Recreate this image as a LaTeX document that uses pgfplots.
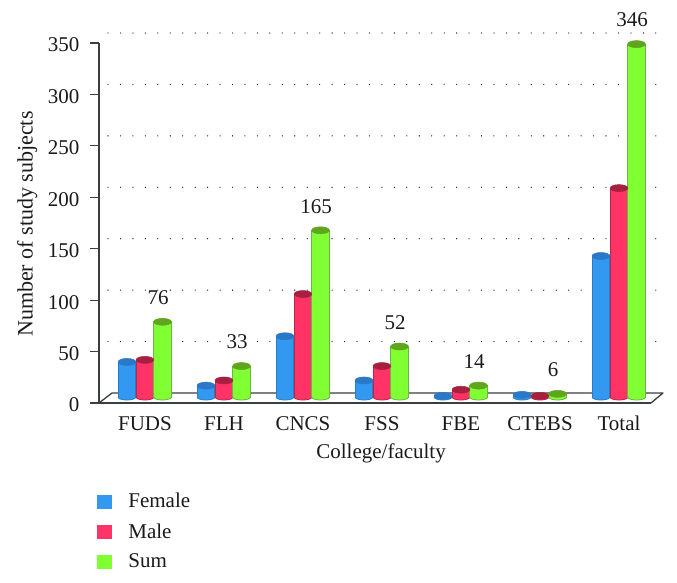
\documentclass[border=0pt]{standalone}
\usepackage{pgfplots}
\pgfplotsset{compat=1.18}
\usepackage{pgfplotstable}
\usepackage{fontspec}
\setmainfont{Liberation Serif}
\definecolor{tx}{HTML}{1A1A1A}
\definecolor{ax}{HTML}{3A3D42}
\definecolor{cB}{HTML}{3399F0}\definecolor{cBd}{HTML}{2A7CC4}\definecolor{cBt}{HTML}{2A78C8}
\definecolor{cR}{HTML}{FF3366}\definecolor{cRd}{HTML}{B8264A}\definecolor{cRt}{HTML}{A82040}
\definecolor{cG}{HTML}{80FF33}\definecolor{cGd}{HTML}{72B048}\definecolor{cGt}{HTML}{5DA61D}
\pgfdeclareplotmark{cyltop}{\pgfpathellipse{\pgfpointorigin}{\pgfqpoint{8.9pt}{0pt}}{\pgfqpoint{0pt}{3.5pt}}\pgfusepathqfillstroke}
\pgfdeclareplotmark{cylbot}{\pgfpathmoveto{\pgfqpoint{-8.9pt}{0pt}}\pgfpatharc{180}{360}{8.9pt and 3pt}\pgfusepathqfillstroke}
\pgfplotstableread{
x v
-0.228 37
0.772 14
1.772 62
2.772 19
3.772 4
4.772 5
5.772 140
}\female
\pgfplotstableread{
x v
0 39
1 19
2 103
3 33
4 10
5 4
6 206
}\male
\pgfplotstableread{
x v
0.222 76
1.222 33
2.222 165
3.222 52
4.222 14
5.222 6
6.222 346
}\sumt
\pgfplotsset{geom/.style={scale only axis,width=552pt,height=360pt,xmin=-0.582,xmax=6.405,clip=false,
  at={(99pt,179pt)},anchor=south west}}
\newcommand{\fs}{\fontsize{21}{24}\selectfont}
\begin{document}
\begin{tikzpicture}[x=1pt,y=1pt]
\path[use as bounding box] (0,0) rectangle (677,582);
\begin{axis}[geom,ymin=0,ymax=350,
  axis lines=left,
  x axis line style={-,color=ax,line width=1.6pt},
  y axis line style={-,color=ax,line width=2.2pt},
  xtick={0,1,2,3,4,5,6},xticklabels={FUDS,FLH,CNCS,FSS,FBE,CTEBS,Total},
  x tick style={draw=none},ytick={0,50,...,350},
  y tick style={color=ax,line width=1.2pt},tick align=outside,major tick length=9pt,
  /pgf/number format/assume math mode=true,
  tick label style={font=\fs,text=tx},
  xticklabel style={text height=14pt,text depth=0pt,yshift=-1pt},
  yticklabel style={xshift=-7pt,yshift=-2pt},
  label style={text=tx},
  xlabel={College/faculty},ylabel={Number of study subjects},
  xlabel style={font=\fs,at={(axis description cs:0.511,-0.139)},anchor=center},
  ylabel style={font=\fontsize{22}{24}\selectfont,at={(axis description cs:-0.13,0.497)},anchor=center},
  legend style={at={(axis description cs:-0.004,-0.245)},anchor=north west,draw=none,fill=none,
    font=\fs,text=tx,row sep=10pt,inner sep=0pt,
    legend cell align=left},
  legend image code/.code={\fill[#1] (0pt,-6.5pt) rectangle (14pt,6.5pt);},
]
\addlegendimage{cB}\addlegendentry{\hspace{15pt}Female}
\addlegendimage{cR}\addlegendentry{\hspace{15pt}Male}
\addlegendimage{cG}\addlegendentry{\hspace{15pt}Sum}
\pgfplotsinvokeforeach{50,100,...,350}{
  \draw[color=tx,line width=1.3pt,line cap=round,dash pattern=on 0pt off 12.45pt,xshift=9pt,yshift=10pt]
   (axis cs:-0.582,#1) -- (axis cs:6.405,#1);}
\draw[color=ax,line width=1.3pt,line join=round] (axis cs:-0.582,0) -- ++(13pt,10pt) -- ++(551pt,0pt) -- (axis cs:6.405,0);
\end{axis}
% bar bodies: clipped at the floor of the cylinder
\begin{axis}[geom,clip=true,at={(99pt,185pt)},ymin=2.9,ymax=352.9,hide axis,ybar,bar width=17.8pt,bar shift=0pt]
\addplot[fill=cB,draw=cBd,line width=0.8pt] table[x=x,y=v] {\female};
\addplot[fill=cR,draw=cRd,line width=0.8pt] table[x=x,y=v] {\male};
\addplot[fill=cG,draw=cGd,line width=0.8pt] table[x=x,y=v] {\sumt};
\end{axis}
% cylinder ends and value labels
\begin{axis}[geom,at={(99pt,182pt)},ymin=0,ymax=350,hide axis]
\addplot[only marks,mark=cylbot,mark options={fill=cB,draw=cBd,line width=0.8pt}] table[x=x,y expr=2.9] {\female};
\addplot[only marks,mark=cylbot,mark options={fill=cR,draw=cRd,line width=0.8pt}] table[x=x,y expr=2.9] {\male};
\addplot[only marks,mark=cylbot,mark options={fill=cG,draw=cGd,line width=0.8pt}] table[x=x,y expr=2.9] {\sumt};
\addplot[only marks,mark=cyltop,mark options={fill=cBt,draw=cBt,line width=0.5pt}] table[x=x,y=v] {\female};
\addplot[only marks,mark=cyltop,mark options={fill=cRt,draw=cRt,line width=0.5pt}] table[x=x,y=v] {\male};
\addplot[only marks,mark=cyltop,mark options={fill=cGt,draw=cGt,line width=0.5pt},
  nodes near coords,point meta=y,
  every node near coord/.style={anchor=center,xshift=-4.5pt,yshift=24pt,font=\fs,text=tx,fill=white,inner sep=0pt,
   /pgf/number format/assume math mode=true}] table[x=x,y=v] {\sumt};
\end{axis}
\end{tikzpicture}
\end{document}
